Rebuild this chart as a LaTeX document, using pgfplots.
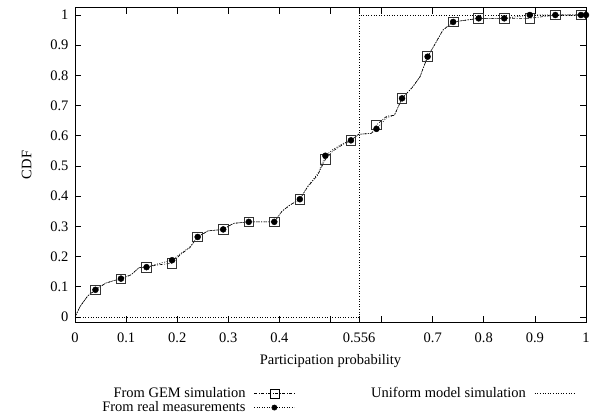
\documentclass[border=0pt]{standalone}
\usepackage{fontspec}
\setmainfont{Liberation Serif}
\usepackage{pgfplots}
\pgfplotsset{compat=1.18}

% CDF curves (sampled along the traces)
\pgfplotstableread{
x y
0.000 0.000
0.010 0.035
0.025 0.070
0.040 0.090
0.060 0.112
0.075 0.120
0.090 0.126
0.110 0.140
0.125 0.163
0.140 0.165
0.160 0.172
0.190 0.178
0.205 0.205
0.225 0.230
0.240 0.265
0.260 0.285
0.290 0.290
0.310 0.310
0.340 0.315
0.390 0.315
0.405 0.350
0.420 0.370
0.440 0.390
0.455 0.430
0.475 0.470
0.490 0.522
0.505 0.550
0.525 0.572
0.540 0.585
0.555 0.605
0.580 0.608
0.590 0.636
0.610 0.665
0.625 0.668
0.640 0.724
0.660 0.760
0.675 0.795
0.690 0.862
0.705 0.905
0.720 0.950
0.740 0.977
0.790 0.989
0.840 0.989
0.890 0.989
0.940 1.000
1.000 1.000
}\gemline

\pgfplotstableread{
x y
0.000 0.000
0.010 0.035
0.025 0.070
0.040 0.090
0.060 0.112
0.075 0.120
0.090 0.127
0.110 0.140
0.125 0.163
0.140 0.165
0.160 0.175
0.190 0.188
0.205 0.208
0.225 0.232
0.240 0.265
0.260 0.285
0.290 0.290
0.310 0.310
0.340 0.315
0.390 0.315
0.405 0.350
0.420 0.370
0.440 0.390
0.455 0.432
0.475 0.475
0.490 0.534
0.505 0.555
0.525 0.575
0.540 0.585
0.555 0.605
0.580 0.608
0.590 0.623
0.610 0.660
0.625 0.668
0.640 0.724
0.660 0.760
0.675 0.795
0.690 0.862
0.705 0.905
0.720 0.950
0.740 0.977
0.790 0.989
0.840 0.989
0.890 1.000
0.940 1.000
1.000 1.000
}\realline

% Marked samples
\pgfplotstableread{
x y
0.04 0.090
0.09 0.126
0.14 0.165
0.19 0.178
0.24 0.265
0.29 0.290
0.34 0.315
0.39 0.315
0.44 0.390
0.49 0.522
0.54 0.585
0.59 0.636
0.64 0.724
0.69 0.862
0.74 0.977
0.79 0.989
0.84 0.989
0.89 0.989
0.94 1.000
0.99 1.000
}\gemmarks

\pgfplotstableread{
x y
0.04 0.090
0.09 0.127
0.14 0.165
0.19 0.188
0.24 0.265
0.29 0.290
0.34 0.315
0.39 0.315
0.44 0.390
0.49 0.534
0.54 0.585
0.59 0.623
0.64 0.724
0.69 0.862
0.74 0.977
0.79 0.989
0.84 0.989
0.89 1.000
0.94 1.000
0.99 1.000
1.00 1.000
}\realmarks

\tikzset{
  gemstyle/.style={line width=0.6bp, dash pattern=on 3bp off 1.5bp on 1bp off 1.5bp},
  realstyle/.style={line width=0.6bp, dash pattern=on 1bp off 1.5bp},
  unistyle/.style={line width=0.7bp, dash pattern=on 1bp off 1.6bp},
}

\begin{document}
\begin{tikzpicture}
\begin{axis}[
  scale only axis,
  width=511bp, height=314bp,
  xmin=0, xmax=1, ymin=-0.0166, ymax=1.0232,
  font=\fontsize{14.5bp}{16bp}\selectfont,
  axis line style={line width=1bp},
  tick style={black, line width=0.8bp},
  major tick length=6bp,
  tick align=inside,
  xtick={0,0.1,0.2,0.3,0.4,0.5,0.556,0.6,0.7,0.8,0.9,1},
  xticklabels={0,0.1,0.2,0.3,0.4,,0.556,,0.7,0.8,0.9,1},
  ytick={0,0.1,0.2,0.3,0.4,0.5,0.6,0.7,0.8,0.9,1},
  yticklabels={0,0.1,0.2,0.3,0.4,0.5,0.6,0.7,0.8,0.9,1},
  xticklabel style={yshift=-7bp},
  yticklabel style={xshift=-3bp},
  xlabel={Participation probability},
  ylabel={CDF},
  xlabel style={yshift=-5bp},
  ylabel style={yshift=12bp},
  legend columns=2,
  legend plot pos=right,
  legend cell align=right,
  legend style={
    draw=none, fill=none,
    at={(axis description cs:0.052,-0.205)}, anchor=north west,
    inner sep=0pt, row sep=0pt,
    nodes={inner sep=0.5bp, text height=10bp, text depth=3bp},
    /tikz/every odd column/.append style={column sep=8bp},
    /tikz/every even column/.append style={column sep=76bp},
  },
  legend image code/.code={%
    \draw[mark repeat=2, mark phase=2, #1]
      plot coordinates {(0bp,0bp) (20bp,0bp) (40bp,0bp)};},
]
% Uniform model: step at 0.556
\addplot[unistyle, forget plot] coordinates {(0,0) (0.556,0) (0.556,1) (1,1)};

\addplot[gemstyle, forget plot] table {\gemline};
\addplot[realstyle, forget plot] table {\realline};

\addplot[only marks, mark=square, mark size=4.8bp,
  mark options={line width=0.8bp, black!80}, forget plot] table {\gemmarks};
\addplot[only marks, mark=*, mark size=3bp, forget plot] table {\realmarks};

\addlegendimage{gemstyle, mark=square, mark size=4.5bp, mark options={solid, line width=0.7bp}}
\addlegendentry{From GEM simulation}
\addlegendimage{unistyle}
\addlegendentry{Uniform model simulation}
\addlegendimage{realstyle, mark=*, mark size=2.6bp, mark options={solid}}
\addlegendentry{From real measurements}
\end{axis}
\path (current axis.south west) ++(-75bp,-95bp) rectangle ++(609bp,417bp);
\end{tikzpicture}
\end{document}
